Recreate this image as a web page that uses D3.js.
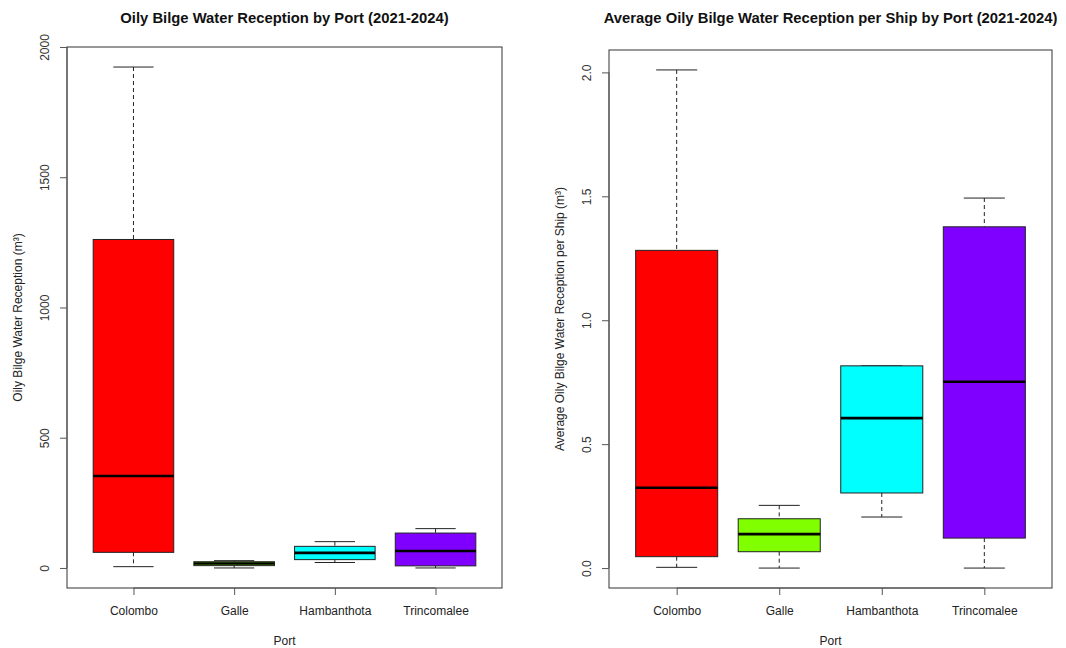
<!DOCTYPE html>
<html>
<head>
<meta charset="utf-8">
<script src="https://cdn.jsdelivr.net/npm/d3@7"></script>
<style>
  html, body { margin: 0; padding: 0; background: #fff; }
  svg { display: block; font-family: "Liberation Sans", Arial, sans-serif; }
</style>
</head>
<body>
<svg id="chart" width="1066" height="648"></svg>
<script>
// Ports and box fill colours
const ports = ["Colombo", "Galle", "Hambanthota", "Trincomalee"];
const boxColors = ["#FF0000", "#80FF00", "#00FFFF", "#8000FF"];

// Total reception (m³): five-number summaries per port
const totalMin    = [5, 0, 21, 0];
const totalQ1     = [60, 9, 32, 8];
const totalMedian = [353, 17, 58, 65];
const totalQ3     = [1261, 24, 83, 134];
const totalMax    = [1923, 28, 101, 151];
const totalTicks  = [0, 500, 1000, 1500, 2000];

// Average reception per ship (m³): five-number summaries per port
const shipMin    = [0.003, 0, 0.206, 0];
const shipQ1     = [0.046, 0.066, 0.303, 0.121];
const shipMedian = [0.324, 0.137, 0.605, 0.752];
const shipQ3     = [1.282, 0.199, 0.816, 1.377];
const shipMax    = [2.010, 0.253, 0.816, 1.493];
const shipTicks  = [0, 0.5, 1.0, 1.5, 2.0];

const svg = d3.select("#chart");

function drawPanel(cfg) {
  const { left, right, top, bottom, title, yLabel, mins, q1s, meds, q3s, maxs, ticks, fmt, yLabelX } = cfg;
  const stats = ports.map((p, i) => ({
    port: p, idx: i + 1, color: boxColors[i],
    min: mins[i], q1: q1s[i], med: meds[i], q3: q3s[i], max: maxs[i]
  }));

  // Data range padded by 4% on each side
  const lo = d3.min(mins), hi = d3.max(maxs), pad = (hi - lo) * 0.04;
  const y = d3.scaleLinear().domain([lo - pad, hi + pad]).range([bottom, top]);
  const x = d3.scaleLinear().domain([0.5 - 0.16, 4.5 + 0.16]).range([left, right]);
  const boxW = x(1.8) - x(1);
  const capW = boxW / 2;

  const g = svg.append("g");

  // Title
  g.append("text")
    .attr("x", (left + right) / 2).attr("y", 23)
    .attr("text-anchor", "middle")
    .attr("font-weight", "bold").attr("font-size", 14.8)
    .attr("fill", "#111")
    .text(title);

  const boxes = g.selectAll(".box").data(stats).join("g").attr("class", "box");

  // Dashed whiskers
  boxes.append("line")
    .attr("x1", d => x(d.idx)).attr("x2", d => x(d.idx))
    .attr("y1", d => y(d.max)).attr("y2", d => y(d.q3))
    .attr("stroke", "#222").attr("stroke-dasharray", "4,3");
  boxes.append("line")
    .attr("x1", d => x(d.idx)).attr("x2", d => x(d.idx))
    .attr("y1", d => y(d.q1)).attr("y2", d => y(d.min))
    .attr("stroke", "#222").attr("stroke-dasharray", "4,3");

  // Whisker caps
  boxes.append("line")
    .attr("x1", d => x(d.idx) - capW / 2).attr("x2", d => x(d.idx) + capW / 2)
    .attr("y1", d => y(d.max)).attr("y2", d => y(d.max))
    .attr("stroke", "#222");
  boxes.append("line")
    .attr("x1", d => x(d.idx) - capW / 2).attr("x2", d => x(d.idx) + capW / 2)
    .attr("y1", d => y(d.min)).attr("y2", d => y(d.min))
    .attr("stroke", "#222");

  // Boxes
  boxes.append("rect")
    .attr("x", d => x(d.idx) - boxW / 2).attr("width", boxW)
    .attr("y", d => y(d.q3)).attr("height", d => y(d.q1) - y(d.q3))
    .attr("fill", d => d.color).attr("stroke", "#222").attr("stroke-width", 1);

  // Medians
  boxes.append("line")
    .attr("x1", d => x(d.idx) - boxW / 2).attr("x2", d => x(d.idx) + boxW / 2)
    .attr("y1", d => y(d.med)).attr("y2", d => y(d.med))
    .attr("stroke", "#000").attr("stroke-width", 2.6);

  // Plot frame
  g.append("rect")
    .attr("x", left).attr("y", top)
    .attr("width", right - left).attr("height", bottom - top)
    .attr("fill", "none").attr("stroke", "#333").attr("stroke-width", 1);

  // Y axis
  const yAxis = g.append("g").attr("transform", `translate(${left},0)`)
    .call(d3.axisLeft(y).tickValues(ticks).tickFormat(fmt).tickSize(7).tickSizeOuter(0));
  yAxis.select(".domain").attr("d", `M0,${y(ticks[0])}V${y(ticks[ticks.length - 1])}`).attr("stroke", "#555");
  yAxis.selectAll(".tick line").attr("stroke", "#555");
  yAxis.selectAll(".tick text")
    .attr("font-size", 12).attr("fill", "#333")
    .attr("x", null).attr("dy", null)
    .attr("text-anchor", "middle")
    .attr("transform", "translate(-18,0) rotate(-90)");

  // X axis
  const xAxis = g.append("g").attr("transform", `translate(0,${bottom})`)
    .call(d3.axisBottom(x).tickValues([1, 2, 3, 4]).tickFormat(i => ports[i - 1]).tickSize(7).tickSizeOuter(0));
  xAxis.select(".domain").attr("d", `M${x(1)},0H${x(4)}`).attr("stroke", "#555");
  xAxis.selectAll(".tick line").attr("stroke", "#555");
  xAxis.selectAll(".tick text")
    .attr("font-size", 12).attr("fill", "#222")
    .attr("y", 18).attr("dy", "0.71em");

  // Axis titles
  g.append("text")
    .attr("x", (left + right) / 2).attr("y", 645)
    .attr("text-anchor", "middle").attr("font-size", 12).attr("fill", "#222")
    .text("Port");
  g.append("text")
    .attr("transform", `translate(${yLabelX},${(top + bottom) / 2}) rotate(-90)`)
    .attr("text-anchor", "middle").attr("font-size", 12).attr("fill", "#222")
    .text(yLabel);
}

drawPanel({
  left: 67, right: 502, top: 47, bottom: 588,
  title: "Oily Bilge Water Reception by Port (2021-2024)",
  yLabel: "Oily Bilge Water Reception  (m³)",
  mins: totalMin, q1s: totalQ1, meds: totalMedian, q3s: totalQ3, maxs: totalMax,
  ticks: totalTicks, fmt: d3.format("d"), yLabelX: 22
});

drawPanel({
  left: 609, right: 1052, top: 50, bottom: 588,
  title: "Average Oily Bilge Water Reception per Ship by Port (2021-2024)",
  yLabel: "Average Oily Bilge Water Reception per Ship (m³)",
  mins: shipMin, q1s: shipQ1, meds: shipMedian, q3s: shipQ3, maxs: shipMax,
  ticks: shipTicks, fmt: d3.format(".1f"), yLabelX: 564
});
</script>
</body>
</html>
